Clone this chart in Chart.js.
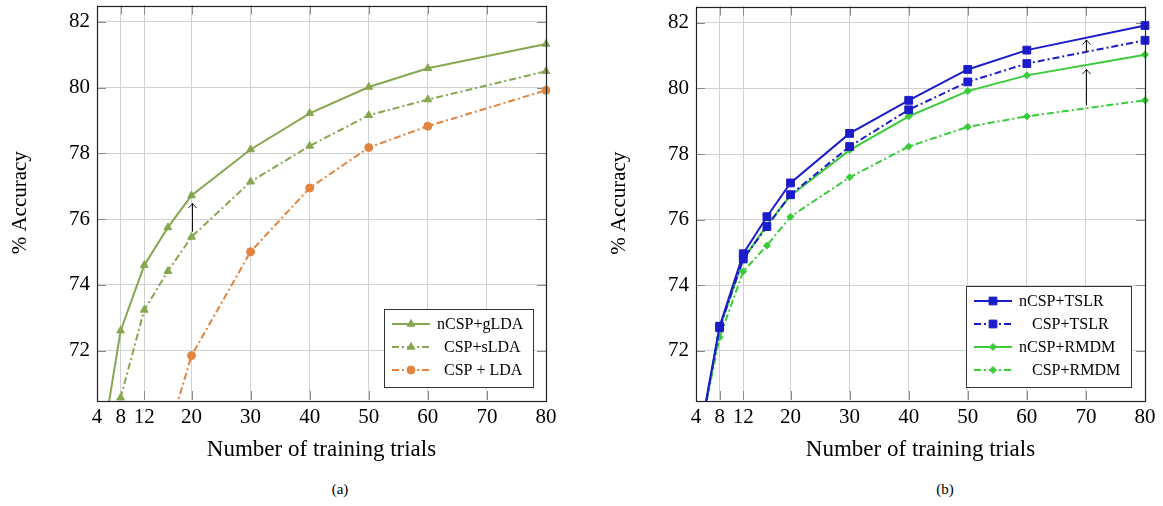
<!DOCTYPE html>
<html><head><meta charset="utf-8">
<script src="https://cdn.jsdelivr.net/npm/chart.js@4/dist/chart.umd.min.js"></script>
<style>
html,body{margin:0;padding:0;background:#fff;width:1163px;height:506px;overflow:hidden;}
.wrap{position:absolute;top:0;width:560px;height:470px;}
.cap{position:absolute;top:481px;font-family:"Liberation Serif",serif;font-size:15px;color:#000;transform:translateX(-50%);white-space:nowrap;}
</style></head><body>
<div class="wrap" style="left:0"><canvas id="c1" width="560" height="470"></canvas></div>
<div class="wrap" style="left:599px"><canvas id="c2" width="560" height="470"></canvas></div>
<div class="cap" style="left:340px">(a)</div>
<div class="cap" style="left:945px">(b)</div>
<script>
// ---- data ----
const trials = [4, 8, 12, 16, 20, 30, 40, 50, 60, 80];
const xTickValues = [4, 8, 12, 20, 30, 40, 50, 60, 70, 80];
const yTickValues = [72, 74, 76, 78, 80, 82];

const nCSP_gLDA = [68.2, 72.61, 74.60, 75.75, 76.72, 78.12, 79.22, 80.02, 80.59, 81.33];
const CSP_sLDA  = [66.5, 70.57, 73.24, 74.42, 75.46, 77.14, 78.23, 79.16, 79.64, 80.50];
const CSP_LDA   = [60.5, 63.8, 66.9, 69.44, 71.85, 75.01, 76.95, 78.18, 78.83, 79.92];

const nCSP_TSLR = [68.8, 72.75, 74.96, 76.09, 77.12, 78.63, 79.64, 80.58, 81.17, 81.92];
const CSP_TSLR  = [68.7, 72.70, 74.80, 75.79, 76.76, 78.23, 79.35, 80.20, 80.76, 81.47];
const nCSP_RMDM = [68.7, 72.68, 74.79, 75.83, 76.73, 78.12, 79.15, 79.92, 80.40, 81.03];
const CSP_RMDM  = [68.9, 72.41, 74.42, 75.21, 76.09, 77.29, 78.23, 78.83, 79.15, 79.64];

// improvement arrows (x position, from value, to value)
const arrowsA_x = [20], arrowsA_from = [75.62], arrowsA_to = [76.48];
const arrowsB_x = [70, 70], arrowsB_from = [81.10, 79.49], arrowsB_to = [81.48, 80.58];

// ---- styles ----
const SERIF = '"Liberation Serif", "Times New Roman", serif';
const OLIVE = '#86a74f', ORANGE = '#e2843e', BLUE = '#1c1ccc', GREEN = '#38cc38';
const DASHDOT = [7, 3, 2, 3];

function ds(label, values, color, dashed, marker, radius) {
  return {
    label,
    data: trials.map((x, i) => ({ x, y: values[i] })),
    borderColor: color, backgroundColor: color,
    borderWidth: 2, borderDash: dashed ? DASHDOT : [],
    pointStyle: marker, pointRadius: radius, pointBorderWidth: 1,
    pointBackgroundColor: color, pointBorderColor: color,
    tension: 0, clip: { left: 6, right: 8, top: 6, bottom: 2 }
  };
}

const decorPlugin = {
  id: 'decor',
  beforeDatasetsDraw(chart) {
    const { ctx, chartArea: a, scales: { x, y } } = chart;
    ctx.save();
    ctx.strokeStyle = '#8a8a8a'; ctx.lineWidth = 1;
    const L = 9;
    ctx.beginPath();
    xTickValues.forEach(v => {
      const px = Math.round(x.getPixelForValue(v)) + 0.5;
      ctx.moveTo(px, a.top); ctx.lineTo(px, a.top + L);
      ctx.moveTo(px, a.bottom); ctx.lineTo(px, a.bottom - L);
    });
    yTickValues.forEach(v => {
      const py = Math.round(y.getPixelForValue(v)) + 0.5;
      ctx.moveTo(a.left, py); ctx.lineTo(a.left + L, py);
      ctx.moveTo(a.right, py); ctx.lineTo(a.right - L, py);
    });
    ctx.stroke();
    ctx.restore();
  },
  afterDatasetsDraw(chart, args, opts) {
    const { ctx, chartArea: a, scales: { x, y } } = chart;
    ctx.save();
    // frame
    ctx.strokeStyle = '#222'; ctx.lineWidth = 1.2;
    ctx.strokeRect(Math.round(a.left) + 0.5, Math.round(a.top) + 0.5, Math.round(a.right - a.left), Math.round(a.bottom - a.top));
    // arrows
    ctx.strokeStyle = '#111'; ctx.lineWidth = 1;
    (opts.arrowX || []).forEach((xv, i) => {
      const px = Math.round(x.getPixelForValue(xv)) + 0.5;
      const y0 = y.getPixelForValue(opts.arrowFrom[i]);
      const y1 = y.getPixelForValue(opts.arrowTo[i]);
      ctx.beginPath();
      ctx.moveTo(px, y0); ctx.lineTo(px, y1);
      ctx.moveTo(px - 4, y1 + 4.5); ctx.quadraticCurveTo(px - 1, y1 + 1.5, px, y1);
      ctx.moveTo(px + 4, y1 + 4.5); ctx.quadraticCurveTo(px + 1, y1 + 1.5, px, y1);
      ctx.stroke();
    });
    // legend
    const lg = opts.legend;
    if (lg) {
      const bx = a.right - lg.right - lg.width, by = a.bottom - lg.bottom - lg.height;
      ctx.fillStyle = '#fff';
      ctx.fillRect(bx, by, lg.width, lg.height);
      ctx.strokeStyle = '#333'; ctx.lineWidth = 1;
      ctx.strokeRect(Math.round(bx) + 0.5, Math.round(by) + 0.5, lg.width, lg.height);
      ctx.font = '16px ' + SERIF;
      ctx.textBaseline = 'middle'; ctx.textAlign = 'left';
      chart.data.datasets.forEach((d, i) => {
        const ry = by + lg.first + i * lg.step;
        const x0 = bx + 8, x1 = bx + 46;
        ctx.save();
        ctx.strokeStyle = d.borderColor; ctx.lineWidth = 2;
        ctx.setLineDash(d.borderDash);
        ctx.beginPath(); ctx.moveTo(x0, ry); ctx.lineTo(x1, ry); ctx.stroke();
        ctx.restore();
        ctx.save();
        ctx.fillStyle = d.borderColor; ctx.strokeStyle = d.borderColor; ctx.lineWidth = 1;
        Chart.helpers.drawPoint(ctx, { pointStyle: d.pointStyle, radius: d.pointRadius, borderWidth: 1, rotation: 0 }, (x0 + x1) / 2, ry);
        ctx.restore();
        ctx.fillStyle = '#000';
        ctx.fillText(d.label, bx + lg.textX[i], ry + 1);
      });
    }
    ctx.restore();
  }
};

function makeChart(id, datasets, decorOpts) {
  return new Chart(document.getElementById(id), {
    type: 'line',
    data: { datasets },
    plugins: [decorPlugin],
    options: {
      responsive: false, animation: false, devicePixelRatio: 1,
      layout: { padding: { left: 0, right: 14, top: 5, bottom: 0 } },
      plugins: { legend: { display: false }, tooltip: { enabled: false }, decor: decorOpts },
      scales: {
        x: {
          type: 'linear', min: 4, max: 80,
          afterBuildTicks: s => { s.ticks = xTickValues.map(v => ({ value: v })); },
          afterFit: s => { s.height = 70; s.paddingLeft = 0; s.paddingRight = 0; },
          grid: { color: '#d0d0d0', lineWidth: 1, drawTicks: false },
          border: { display: false },
          ticks: { font: { family: SERIF, size: 21 }, color: '#000', padding: 5, maxRotation: 0, autoSkip: false },
          title: { display: true, text: 'Number of training trials', font: { family: SERIF, size: 23 }, color: '#000', padding: { top: 0, bottom: 6 } }
        },
        y: {
          type: 'linear', min: 70.5, max: 82.5,
          afterBuildTicks: s => { s.ticks = yTickValues.map(v => ({ value: v })); },
          afterFit: s => { s.width = 97; s.paddingTop = 0; s.paddingBottom = 0; },
          grid: { color: '#d0d0d0', lineWidth: 1, drawTicks: false },
          border: { display: false },
          ticks: { font: { family: SERIF, size: 21 }, color: '#000', padding: 7 },
          title: { display: true, text: '% Accuracy', font: { family: SERIF, size: 21 }, color: '#000', padding: { top: 8, bottom: 0 } }
        }
      }
    }
  });
}

makeChart('c1', [
  ds('nCSP+gLDA', nCSP_gLDA, OLIVE, false, 'triangle', 4.5),
  ds('CSP+sLDA', CSP_sLDA, OLIVE, true, 'triangle', 4.5),
  ds('CSP + LDA', CSP_LDA, ORANGE, true, 'circle', 4)
], {
  arrowX: arrowsA_x, arrowFrom: arrowsA_from, arrowTo: arrowsA_to,
  legend: { right: 13, bottom: 13, width: 149, height: 78, first: 15, step: 23, textX: [53, 60, 60] }
});

makeChart('c2', [
  ds('nCSP+TSLR', nCSP_TSLR, BLUE, false, 'rect', 5.5),
  ds('CSP+TSLR', CSP_TSLR, BLUE, true, 'rect', 5.5),
  ds('nCSP+RMDM', nCSP_RMDM, GREEN, false, 'rectRot', 3.5),
  ds('CSP+RMDM', CSP_RMDM, GREEN, true, 'rectRot', 3.5)
], {
  arrowX: arrowsB_x, arrowFrom: arrowsB_from, arrowTo: arrowsB_to,
  legend: { right: 14, bottom: 13, width: 165, height: 101, first: 15, step: 23, textX: [53, 66, 53, 66] }
});
</script>
</body></html>
